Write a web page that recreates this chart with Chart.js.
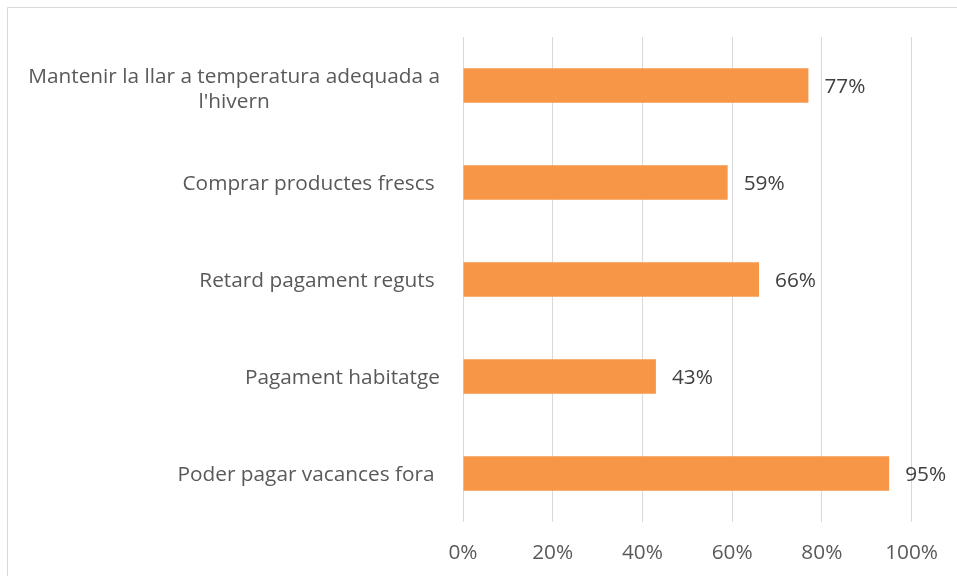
<!DOCTYPE html>
<html>
<head>
<meta charset="utf-8">
<script src="https://cdn.jsdelivr.net/npm/chart.js@4/dist/chart.umd.min.js"></script>
<style>
  html, body { margin: 0; padding: 0; background: #fff; overflow: hidden; }
  #wrap { position: relative; width: 957px; height: 576px; }
</style>
</head>
<body>
<div id="wrap"><canvas id="c" width="957" height="576"></canvas></div>
<script>
const categories = [
  ["Mantenir la llar a temperatura adequada a", "l'hivern"],
  ["Comprar productes frescs "],
  ["Retard pagament reguts "],
  ["Pagament habitatge"],
  ["Poder pagar vacances fora "]
];
const values = [77, 59, 66, 43, 95];
const xTicks = [0, 20, 40, 60, 80, 100];

const FONT = "'Open Sans'";
const FSIZE = 20.8;

const framePlugin = {
  id: 'frame',
  beforeDraw(chart) {
    const ctx = chart.ctx;
    ctx.save();
    ctx.fillStyle = '#fff';
    ctx.fillRect(0, 0, chart.width, chart.height);
    ctx.strokeStyle = '#D9D9D9';
    ctx.lineWidth = 1;
    ctx.beginPath();
    ctx.moveTo(7.5, chart.height + 5);
    ctx.lineTo(7.5, 7.5);
    ctx.lineTo(chart.width + 5, 7.5);
    ctx.stroke();
    ctx.restore();
  }
};

const labelPlugin = {
  id: 'labels',
  afterDatasetsDraw(chart) {
    const ctx = chart.ctx;
    const yScale = chart.scales.y;
    ctx.save();
    ctx.font = FSIZE + 'px ' + FONT;
    ctx.textBaseline = 'middle';
    ctx.fillStyle = '#595959';
    const rightEdge = yScale.right - 23;
    const lineH = 25.5;
    categories.forEach((lines, i) => {
      const cy = yScale.getPixelForValue(i) + 2;
      const widths = lines.map(l => ctx.measureText(l).width);
      const maxW = Math.max(...widths);
      const cx = rightEdge - maxW / 2;
      ctx.textAlign = 'center';
      const startY = cy - (lines.length - 1) * lineH / 2 + (lines.length > 1 ? 2 : 0);
      lines.forEach((l, k) => {
        ctx.fillText(l, cx, startY + k * lineH);
      });
    });
    ctx.fillStyle = '#404040';
    ctx.textAlign = 'left';
    const meta = chart.getDatasetMeta(0);
    meta.data.forEach((bar, i) => {
      ctx.fillText(values[i] + '%', bar.x + 16, bar.y + 2);
    });
    ctx.restore();
  }
};

new Chart(document.getElementById('c'), {
  type: 'bar',
  data: {
    labels: categories,
    datasets: [{
      data: values,
      backgroundColor: '#F79646',
      borderWidth: 0,
      categoryPercentage: 1,
      barPercentage: 0.355
    }]
  },
  options: {
    indexAxis: 'y',
    responsive: false,
    animation: false,
    devicePixelRatio: 1,
    layout: { padding: { top: 37, right: 45, left: 0, bottom: 0 } },
    plugins: { legend: { display: false }, tooltip: { enabled: false } },
    scales: {
      x: {
        min: 0, max: 100,
        afterBuildTicks(scale) { scale.ticks = xTicks.map(v => ({ value: v })); },
        afterFit(scale) { scale.height = 54; },
        grid: { color: '#D9D9D9', lineWidth: 1, drawTicks: false },
        border: { display: false },
        ticks: {
          padding: 19,
          color: '#595959',
          font: { family: FONT, size: FSIZE },
          callback: v => v + '%'
        }
      },
      y: {
        afterFit(scale) { scale.width = 463; },
        grid: { display: false, drawTicks: false },
        border: { display: false },
        ticks: { display: false }
      }
    }
  },
  plugins: [framePlugin, labelPlugin]
});
</script>
</body>
</html>
